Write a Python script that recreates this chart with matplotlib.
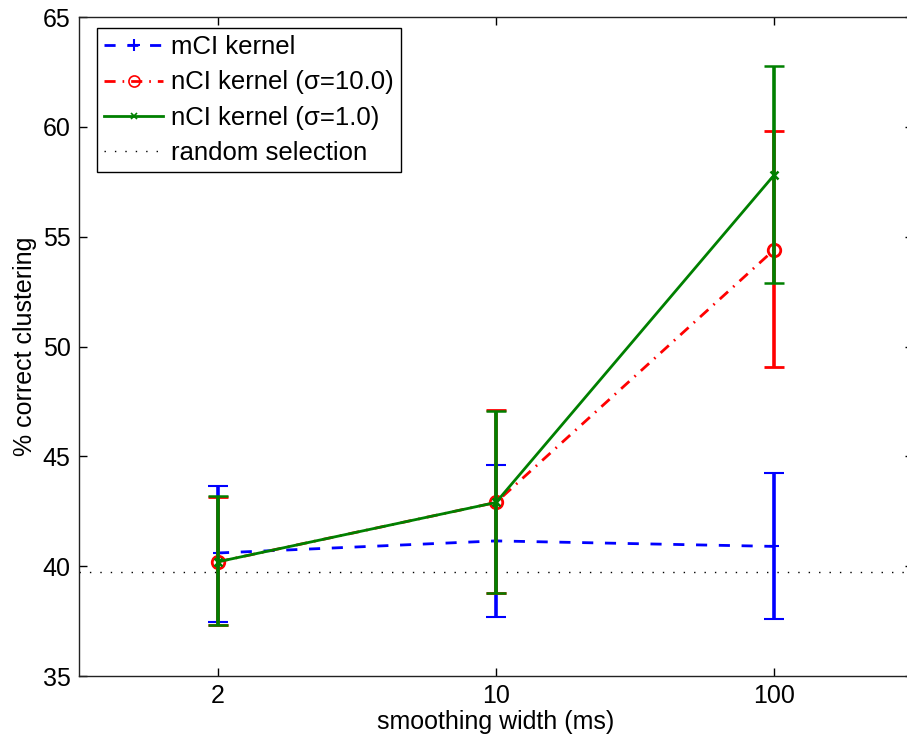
import matplotlib
matplotlib.use("Agg")
import matplotlib.pyplot as plt
from matplotlib.lines import Line2D

plt.rcParams['font.family'] = ['Liberation Sans', 'DejaVu Sans']

widths = ["2", "10", "100"]
xpos = [1, 2, 3]

mci_mean = [40.6, 41.15, 40.9]
mci_lo = [37.45, 37.7, 37.6]
mci_hi = [43.65, 44.6, 44.25]

nci10_mean = [40.2, 42.9, 54.4]
nci10_lo = [37.3, 38.8, 49.05]
nci10_hi = [43.15, 47.1, 59.8]

nci1_mean = [40.2, 42.9, 57.8]
nci1_lo = [37.3, 38.8, 52.9]
nci1_hi = [43.2, 47.05, 62.75]

random_level = 39.75

labels = ['mCI kernel', 'nCI kernel (σ=10.0)', 'nCI kernel (σ=1.0)', 'random selection']

fig = plt.figure(figsize=(9.07, 7.44), dpi=100)
ax = fig.add_axes([79/907, 68/744, 834/907, 659/744])

def err(mean, lo, hi):
    return [[m - l for m, l in zip(mean, lo)], [h - m for m, h in zip(mean, hi)]]

blue_ls = (0, (4.0, 4.2))
red_ls = (0, (4.0, 2.5, 0.6, 2.5))
dot_ls = (0, (1, 6.5))

ax.errorbar(xpos, mci_mean, yerr=err(mci_mean, mci_lo, mci_hi), color='#0000ff',
            linestyle=blue_ls, lw=2.0, marker='+', markersize=7, mew=1.5,
            capsize=7, capthick=2.5, elinewidth=2.6, zorder=3)
ax.errorbar(xpos, nci10_mean, yerr=err(nci10_mean, nci10_lo, nci10_hi), color='#ff0000',
            linestyle=red_ls, lw=2.0, marker='o', markersize=9, mfc='none', mew=2.0,
            capsize=7, capthick=2.5, elinewidth=2.6, zorder=4)
ax.errorbar(xpos, nci1_mean, yerr=err(nci1_mean, nci1_lo, nci1_hi), color='#008000',
            linestyle='-', lw=2.0, marker='x', markersize=6, mew=1.8,
            capsize=7, capthick=2.5, elinewidth=2.6, zorder=5)
ax.axhline(random_level, color='black', linestyle=dot_ls, lw=1.0, zorder=2)

handles = [
    Line2D([], [], color='#0000ff', linestyle=blue_ls, lw=2.0, marker='+', markersize=8, mew=1.5),
    Line2D([], [], color='#ff0000', linestyle=red_ls, lw=2.0, marker='o', markersize=8, mfc='none', mew=1.2),
    Line2D([], [], color='#008000', linestyle='-', lw=2.0, marker='x', markersize=5, mew=1.2),
    Line2D([], [], color='black', linestyle=dot_ls, lw=1.0),
]

ax.set_xlim(0.5, 3.5)
ax.set_ylim(35, 65)
ax.set_xticks(xpos)
ax.set_xticklabels(widths)
ax.set_yticks(range(35, 66, 5))
ax.tick_params(direction='in', length=6, width=1, top=True, right=True,
               labelsize=18, colors='black', pad=6)
for s in ax.spines.values():
    s.set_linewidth(1.0)
    s.set_color('#222222')
ax.set_xlabel('smoothing width (ms)', fontsize=18, labelpad=1)
ax.set_ylabel('% correct clustering', fontsize=18, labelpad=4)

leg = ax.legend(handles, labels, loc='upper left', bbox_to_anchor=(18/834, 1 - 11/659),
                fontsize=18.5, frameon=True, fancybox=False,
                edgecolor='black', framealpha=1, borderaxespad=0,
                handlelength=2.3, handletextpad=0.3, labelspacing=0.44,
                borderpad=0.28)
leg.get_frame().set_linewidth(1.0)

fig.savefig('out.png', dpi=100)
